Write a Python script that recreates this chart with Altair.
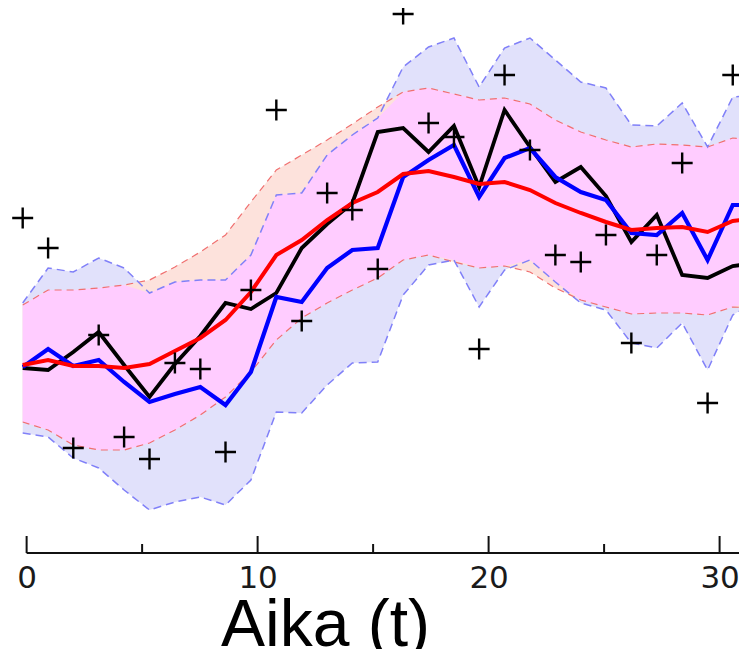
import altair as alt
import pandas as pd
import numpy as np

# time stamps (axis units)
t = [-0.17, 0.93, 2.02, 3.12, 4.22, 5.32, 6.42, 7.52, 8.61, 9.71, 10.81, 11.91,
     13.01, 14.10, 15.20, 16.30, 17.40, 18.50, 19.59, 20.69, 21.79, 22.89, 23.99,
     25.08, 26.18, 27.28, 28.38, 29.48, 30.57, 31.67]

# noisy measurements (+)
meas = [3.35, 3.05, 1.05, 2.18, 1.16, 0.94, 1.90, 1.84, 1.01, 2.63, 4.43, 2.32,
        3.60, 3.43, 2.84, 5.39, 4.30, 4.16, 2.04, 4.78, 4.03, 2.98, 2.91, 3.18,
        2.10, 2.98, 3.90, 1.50, 4.78, None]

# true signal (black)
truth = [1.85, 1.83, 2.01, 2.21, 1.88, 1.56, 1.89, 2.17, 2.50, 2.44, 2.60, 3.05,
         3.29, 3.50, 4.21, 4.25, 4.01, 4.27, 3.66, 4.43, 4.06, 3.71, 3.86, 3.57,
         3.11, 3.38, 2.78, 2.75, 2.87, 2.90]

# filter estimate (blue)
filt = [1.86, 2.04, 1.87, 1.93, 1.71, 1.51, 1.59, 1.66, 1.48, 1.81, 2.56, 2.51,
        2.85, 3.03, 3.05, 3.76, 3.93, 4.08, 3.56, 3.95, 4.05, 3.76, 3.61, 3.53,
        3.20, 3.18, 3.40, 2.93, 3.48, 3.48]

# smoother estimate (red)
smooth = [1.88, 1.93, 1.87, 1.87, 1.85, 1.89, 2.02, 2.15, 2.33, 2.61, 2.98, 3.13,
          3.33, 3.50, 3.61, 3.79, 3.82, 3.76, 3.69, 3.71, 3.63, 3.50, 3.40, 3.31,
          3.23, 3.25, 3.26, 3.21, 3.32, 3.35]

# filter confidence band
blue_upper = [2.50, 2.85, 2.81, 2.95, 2.85, 2.60, 2.71, 2.73, 2.73, 2.98, 3.58, 3.60,
              3.98, 4.18, 4.35, 4.86, 5.06, 5.15, 4.66, 5.05, 5.15, 4.93, 4.71, 4.65,
              4.28, 4.27, 4.50, 4.06, 4.56, 4.58]
blue_lower = [1.20, 1.16, 0.95, 0.85, 0.63, 0.43, 0.51, 0.56, 0.48, 0.73, 1.41, 1.40,
              1.68, 1.90, 1.91, 2.58, 2.88, 2.93, 2.46, 2.83, 2.93, 2.71, 2.50, 2.43,
              2.10, 2.05, 2.30, 1.83, 2.38, 2.53]

# smoother confidence band
red_upper = [2.48, 2.63, 2.63, 2.65, 2.68, 2.73, 2.86, 3.01, 3.18, 3.51, 3.83, 3.98,
             4.13, 4.29, 4.46, 4.61, 4.65, 4.59, 4.53, 4.55, 4.49, 4.33, 4.21, 4.13,
             4.06, 4.09, 4.08, 4.06, 4.15, 4.13]
red_lower = [1.31, 1.23, 1.08, 1.03, 1.03, 1.10, 1.23, 1.38, 1.56, 1.81, 2.13, 2.35,
             2.50, 2.63, 2.75, 2.93, 2.98, 2.91, 2.85, 2.87, 2.81, 2.65, 2.53, 2.46,
             2.39, 2.40, 2.40, 2.38, 2.46, 2.45]

major_ticks = [0, 10, 20, 30]
minor_ticks = [5, 15, 25]

df = pd.DataFrame({
    "t": t, "meas": meas, "truth": truth, "filt": filt, "smooth": smooth,
    "bu": blue_upper, "bl": blue_lower, "ru": red_upper, "rl": red_lower,
})
df["meas"] = pd.to_numeric(df["meas"])
df["ol"] = np.maximum(df["bl"], df["rl"])
df["ou"] = np.maximum(np.minimum(df["bu"], df["ru"]), df["ol"])

W, H = 717, 545
xscale = alt.Scale(domain=[-0.2, 30.84], nice=False, zero=False)
yscale = alt.Scale(domain=[0, 5.45], nice=False, zero=False)

xaxis = alt.Axis(values=major_ticks, ticks=False, tickSize=0, domain=False, grid=False,
                 labelFont="DejaVu Sans", labelFontSize=31, labelColor="#1a1a1a",
                 labelPadding=10, labelFlush=False, format="d",
                 title="Aika (t)", titleFont="Liberation Sans", titleFontSize=66,
                 titleFontWeight="normal", titleColor="black",
                 titleX=303, titleY=92, titleAlign="center", titleBaseline="alphabetic")

base = alt.Chart(df).encode(x=alt.X("t:Q", scale=xscale, axis=xaxis))
Y = lambda f: alt.Y(f, scale=yscale, axis=None)

blue_band = base.mark_area(color="#e1e1fb", clip=True).encode(y=Y("bl:Q"), y2="bu:Q")
red_band = base.mark_area(color="#fde2dc", clip=True).encode(y=Y("rl:Q"), y2="ru:Q")
ov_band = base.mark_area(color="#ffccff", clip=True).encode(y=Y("ol:Q"), y2="ou:Q")

rdash = dict(color="#f07070", strokeWidth=1.2, strokeDash=[7, 5], clip=True)
bdash = dict(color="#8080f8", strokeWidth=1.5, strokeDash=[8, 5], clip=True)
ru_l = base.mark_line(**rdash).encode(y=Y("ru:Q"))
rl_l = base.mark_line(**rdash).encode(y=Y("rl:Q"))
bu_l = base.mark_line(**bdash).encode(y=Y("bu:Q"))
bl_l = base.mark_line(**bdash).encode(y=Y("bl:Q"))

black_l = base.mark_line(color="black", strokeWidth=3.8, clip=True).encode(y=Y("truth:Q"))
blue_l = base.mark_line(color="#0000ff", strokeWidth=4.2, clip=True).encode(y=Y("filt:Q"))
red_l = base.mark_line(color="#ff0000", strokeWidth=4.0, clip=True).encode(y=Y("smooth:Q"))

pts = base.mark_point(shape="M-1,0L1,0M0,-1L0,1", size=440, filled=False,
                      stroke="black", strokeWidth=2.4, opacity=1, clip=False).encode(y=Y("meas:Q"))

axis_line = alt.Chart(pd.DataFrame({"a": [0]})).mark_rule(color="#111", strokeWidth=2).encode(
    x=alt.X("a:Q", scale=xscale), x2=alt.value(W), y=alt.value(H))
maj = alt.Chart(pd.DataFrame({"v": major_ticks})).mark_rule(color="#111", strokeWidth=2).encode(
    x=alt.X("v:Q", scale=xscale), y=alt.value(H), y2=alt.value(H - 17))
mino = alt.Chart(pd.DataFrame({"v": minor_ticks})).mark_rule(color="#111", strokeWidth=2).encode(
    x=alt.X("v:Q", scale=xscale), y=alt.value(H), y2=alt.value(H - 9))

chart = alt.layer(
    blue_band, red_band, ov_band, ru_l, rl_l, bu_l, bl_l,
    black_l, blue_l, red_l, pts, axis_line, maj, mino
).properties(
    width=W, height=H,
    autosize=alt.AutoSizeParams(type="none"),
    padding={"left": 14, "top": 0, "right": 0, "bottom": 96},
).configure_view(stroke=None)

chart.save("out.html", embed_options={"renderer": "svg", "actions": False})
